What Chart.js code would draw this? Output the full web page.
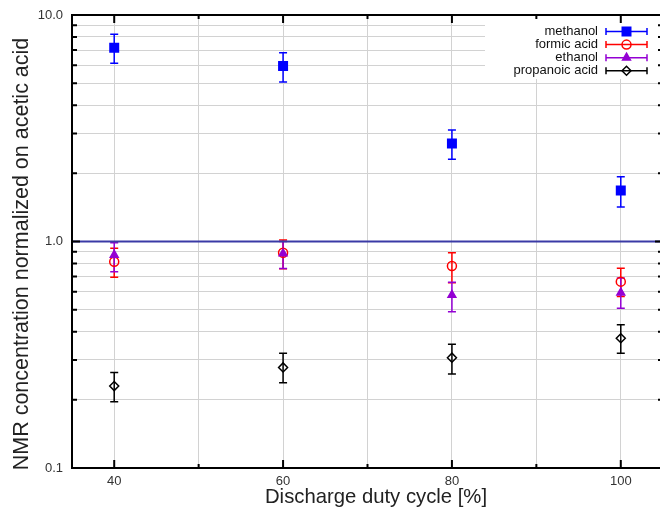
<!DOCTYPE html>
<html>
<head>
<meta charset="utf-8">
<script src="https://cdn.jsdelivr.net/npm/chart.js"></script>
<style>
  html, body { margin:0; padding:0; background:#fff; overflow:hidden; }
  #wrap { width:660px; height:513px; overflow:hidden; }
</style>
</head>
<body>
<div id="wrap"><canvas id="nmrChart" width="664" height="513"></canvas></div>
<script>
  /*** datos ***/
  const duty = [40, 60, 80, 100];

  const methanol   = [7.17, 5.95, 2.71, 1.68];
  const methanolLo = [6.12, 5.06, 2.31, 1.42];
  const methanolHi = [8.22, 6.82, 3.11, 1.93];

  const formic   = [0.814, 0.892, 0.779, 0.665];
  const formicLo = [0.695, 0.758, 0.658, 0.571];
  const formicHi = [0.933, 1.015, 0.892, 0.761];

  const ethanol   = [0.872, 0.885, 0.580, 0.594];
  const ethanolLo = [0.736, 0.760, 0.490, 0.507];
  const ethanolHi = [0.988, 1.000, 0.660, 0.690];

  const propanoic   = [0.230, 0.278, 0.307, 0.374];
  const propanoicLo = [0.196, 0.238, 0.260, 0.321];
  const propanoicHi = [0.264, 0.321, 0.352, 0.429];

  const refX = [35, 105];
  const refValue = 1.0;

  const xTicks = [40, 50, 60, 70, 80, 90, 100];
  const xLabels = [40, 60, 80, 100];
  const yTicks = [0.1, 0.2, 0.3, 0.4, 0.5, 0.6, 0.7, 0.8, 0.9,
                  1, 2, 3, 4, 5, 6, 7, 8, 9, 10];
  const yLabels = [0.1, 1, 10];

  const FONT = "'Liberation Sans', Arial, sans-serif";

  const series = [
    { label: 'methanol',       values: methanol,  lo: methanolLo,  hi: methanolHi,  color: '#0000ff', style: 'rect',     radius: 6,   fill: '#0000ff' },
    { label: 'formic acid',    values: formic,    lo: formicLo,    hi: formicHi,    color: '#ff0000', style: 'circle',   radius: 4.5, fill: 'rgba(0,0,0,0)' },
    { label: 'ethanol',        values: ethanol,   lo: ethanolLo,   hi: ethanolHi,   color: '#9400d3', style: 'triangle', radius: 4.5, fill: '#9400d3' },
    { label: 'propanoic acid', values: propanoic, lo: propanoicLo, hi: propanoicHi, color: '#000000', style: 'rectRot',  radius: 4.5, fill: 'rgba(0,0,0,0)' }
  ];

  const isMajorLog = v => Math.abs(Math.log10(v) - Math.round(Math.log10(v))) < 1e-9;

  /*** barras de error, por debajo de los marcadores ***/
  const errorBars = {
    id: 'errorBars',
    beforeDatasetsDraw(chart) {
      const { ctx, scales: { x, y } } = chart;
      ctx.save();
      ctx.lineWidth = 1.5;
      series.forEach(s => {
        ctx.strokeStyle = s.color;
        duty.forEach((d, i) => {
          const px = x.getPixelForValue(d);
          const top = y.getPixelForValue(s.hi[i]);
          const bot = y.getPixelForValue(s.lo[i]);
          ctx.beginPath();
          ctx.moveTo(px, top); ctx.lineTo(px, bot);
          ctx.moveTo(px - 4, top); ctx.lineTo(px + 4, top);
          ctx.moveTo(px - 4, bot); ctx.lineTo(px + 4, bot);
          ctx.stroke();
        });
      });
      ctx.restore();
    }
  };

  /*** marco, ticks hacia dentro, leyenda estilo gnuplot y titulos ***/
  const frameAndKey = {
    id: 'frameAndKey',
    afterDatasetsDraw(chart) {
      const { ctx, chartArea: { left, right, top, bottom }, scales: { x, y } } = chart;
      ctx.save();

      // fondo de la leyenda
      ctx.fillStyle = '#fff';
      ctx.fillRect(485, top + 1, right - 486, 63);

      // marco y ticks
      ctx.strokeStyle = '#000';
      ctx.lineWidth = 2;
      ctx.beginPath();
      xTicks.forEach(v => {
        const px = x.getPixelForValue(v);
        const len = xLabels.includes(v) ? 8 : 4;
        ctx.moveTo(px, bottom); ctx.lineTo(px, bottom - len);
        ctx.moveTo(px, top); ctx.lineTo(px, top + len);
      });
      yTicks.forEach(v => {
        const py = y.getPixelForValue(v);
        const len = isMajorLog(v) ? 8 : 5;
        ctx.moveTo(left, py); ctx.lineTo(left + len, py);
        ctx.moveTo(right, py); ctx.lineTo(right - len, py);
      });
      ctx.stroke();
      ctx.strokeRect(left, top, right - left, bottom - top);

      // entradas de la leyenda
      ctx.font = '13px ' + FONT;
      ctx.textAlign = 'right';
      ctx.textBaseline = 'middle';
      series.forEach((s, i) => {
        const ly = 31.5 + i * 13.1;
        ctx.fillStyle = '#111';
        ctx.fillText(s.label, 598, ly);
        ctx.strokeStyle = s.color;
        ctx.lineWidth = 1.5;
        ctx.beginPath();
        ctx.moveTo(606, ly); ctx.lineTo(647, ly);
        ctx.moveTo(606, ly - 3.5); ctx.lineTo(606, ly + 3.5);
        ctx.moveTo(647, ly - 3.5); ctx.lineTo(647, ly + 3.5);
        ctx.stroke();
        ctx.fillStyle = s.fill;
        ctx.lineWidth = 1.5;
        Chart.helpers.drawPoint(ctx, { pointStyle: s.style, radius: s.radius, rotation: 0, borderWidth: 1.5 }, 626.5, ly);
      });

      ctx.restore();
    },
    afterDraw(chart) {
      const { ctx } = chart;
      ctx.save();
      ctx.fillStyle = '#222';
      ctx.textAlign = 'center';
      ctx.textBaseline = 'middle';
      ctx.font = '20.3px ' + FONT;
      ctx.fillText('Discharge duty cycle [%]', 376, 497);
      ctx.translate(22, 254);
      ctx.rotate(-Math.PI / 2);
      ctx.font = '21.5px ' + FONT;
      ctx.fillText('NMR concentration normalized on acetic acid', 0, 0);
      ctx.restore();
    }
  };

  const datasets = series.map((s, k) => ({
    label: s.label,
    data: duty.map((d, i) => ({ x: d, y: s.values[i] })),
    showLine: false,
    pointStyle: s.style,
    pointRadius: s.radius,
    pointBorderWidth: 1.5,
    borderColor: s.color,
    backgroundColor: s.fill,
    order: series.length - k
  }));

  datasets.push({
    label: 'acetic acid',
    data: refX.map(v => ({ x: v, y: refValue })),
    showLine: true,
    pointRadius: 0,
    borderColor: '#3a3aa6',
    borderWidth: 2,
    order: 10
  });

  const ctx = document.getElementById('nmrChart');
  new Chart(ctx, {
    type: 'scatter',
    data: { datasets: datasets },
    plugins: [errorBars, frameAndKey],
    options: {
      responsive: false,
      animation: false,
      devicePixelRatio: 1,
      layout: { autoPadding: false, padding: { top: 15, right: 1, bottom: 0, left: 0 } },
      plugins: {
        legend: { display: false },
        tooltip: { enabled: false }
      },
      scales: {
        x: {
          type: 'linear',
          min: 35,
          max: 105,
          afterBuildTicks: scale => { scale.ticks = xTicks.map(v => ({ value: v })); },
          afterFit: scale => { scale.height = 45; scale.paddingLeft = 0; scale.paddingRight = 0; },
          border: { display: false },
          grid: { color: '#d2d2d2', lineWidth: 1, drawTicks: false },
          ticks: {
            padding: 6,
            color: '#333',
            font: { family: FONT, size: 13 },
            callback: v => xLabels.includes(v) ? String(v) : ''
          }
        },
        y: {
          type: 'logarithmic',
          min: 0.1,
          max: 10,
          afterBuildTicks: scale => { scale.ticks = yTicks.map(v => ({ value: v })); },
          afterFit: scale => { scale.width = 72; scale.paddingTop = 0; scale.paddingBottom = 0; },
          border: { display: false },
          grid: { color: '#d2d2d2', lineWidth: 1, drawTicks: false },
          ticks: {
            padding: 9,
            color: '#333',
            font: { family: FONT, size: 13 },
            callback: v => yLabels.some(l => Math.abs(l - v) < 1e-9) ? Number(v).toFixed(1) : ''
          }
        }
      }
    }
  });
</script>
</body>
</html>
